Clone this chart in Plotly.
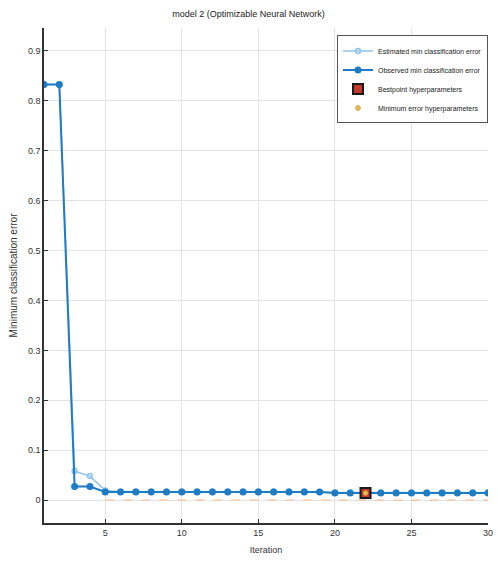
import plotly.graph_objects as go

iterations = list(range(1, 31))
observed_min_error = [0.833, 0.833, 0.027, 0.027, 0.016, 0.016, 0.016, 0.016, 0.016, 0.016,
                      0.016, 0.016, 0.016, 0.016, 0.016, 0.016, 0.016, 0.016, 0.016, 0.014,
                      0.014, 0.014, 0.014, 0.014, 0.014, 0.014, 0.014, 0.014, 0.014, 0.014]
estimated_min_error = [0.833, 0.833, 0.058, 0.048, 0.019, 0.017, 0.017, 0.017, 0.017, 0.017,
                       0.017, 0.017, 0.017, 0.017, 0.017, 0.017, 0.017, 0.017, 0.016, 0.015,
                       0.015, 0.015, 0.015, 0.015, 0.015, 0.015, 0.015, 0.015, 0.015, 0.015]
best_point_iter = [22]
best_point_err = [0.014]
min_error_iter = [22]
min_error_err = [0.014]
ref_line_x = [5, 30]
ref_line_y = [0.0, 0.0]
x_ticks = [5, 10, 15, 20, 25, 30]
y_ticks = [0, 0.1, 0.2, 0.3, 0.4, 0.5, 0.6, 0.7, 0.8, 0.9]
y_tick_labels = ["0", "0.1", "0.2", "0.3", "0.4", "0.5", "0.6", "0.7", "0.8", "0.9"]

FONT = "Liberation Sans"

fig = go.Figure()
fig.add_trace(go.Scatter(x=ref_line_x, y=ref_line_y, mode="lines",
                         line=dict(color="#f6c49e", width=1.2, dash="dash"),
                         showlegend=False, hoverinfo="skip"))
fig.add_trace(go.Scatter(x=iterations, y=estimated_min_error, mode="lines+markers",
                         name="Estimated min classification error",
                         line=dict(color="#8cc4ec", width=1.5),
                         marker=dict(symbol="circle-open", size=5, color="#8cc4ec", line=dict(width=1.5))))
fig.add_trace(go.Scatter(x=iterations, y=observed_min_error, mode="lines+markers",
                         name="Observed min classification error",
                         line=dict(color="#1f7bc4", width=2),
                         marker=dict(symbol="circle", size=7, color="#1f7bc4")))
fig.add_trace(go.Scatter(x=best_point_iter, y=best_point_err, mode="markers",
                         name="Bestpoint hyperparameters",
                         marker=dict(symbol="square", size=10, color="#c0392b",
                                     line=dict(color="#1a1a1a", width=2))))
fig.add_trace(go.Scatter(x=min_error_iter, y=min_error_err, mode="markers",
                         name="Minimum error hyperparameters",
                         marker=dict(symbol="circle", size=5, color="#e8b84a",
                                     line=dict(color="#c89020", width=0.5))))

fig.update_layout(
    width=497, height=563,
    margin=dict(l=44, r=9, t=28, b=40),
    paper_bgcolor="white", plot_bgcolor="white",
    font=dict(family=FONT, size=9, color="#333333"),
    title=dict(text="model 2 (Optimizable Neural Network)", x=0.5, xanchor="center",
               y=0.976, yanchor="middle", font=dict(size=9, color="#222222")),
    xaxis=dict(range=[1, 30], tickvals=x_ticks, showgrid=True, gridcolor="#e4e4e4",
               showline=True, linecolor="#333333", linewidth=1.5, ticks="inside",
               ticklen=4, tickcolor="#333333", zeroline=False, automargin=False,
               title=dict(text="Iteration", font=dict(size=9), standoff=10)),
    yaxis=dict(range=[-0.046, 0.946], tickvals=y_ticks, ticktext=y_tick_labels,
               showgrid=True, gridcolor="#e4e4e4",
               showline=True, linecolor="#333333", linewidth=1.5, ticks="inside",
               ticklen=4, tickcolor="#333333", zeroline=False, automargin=False,
               title=dict(text="Minimum classification error", font=dict(size=10), standoff=8)),
    legend=dict(x=1.0, y=0.985, xanchor="right", yanchor="top",
                bgcolor="white", bordercolor="#555555", borderwidth=1,
                font=dict(size=7, color="#222222"), tracegroupgap=0, itemwidth=30),
)
fig.write_html("out.html")
